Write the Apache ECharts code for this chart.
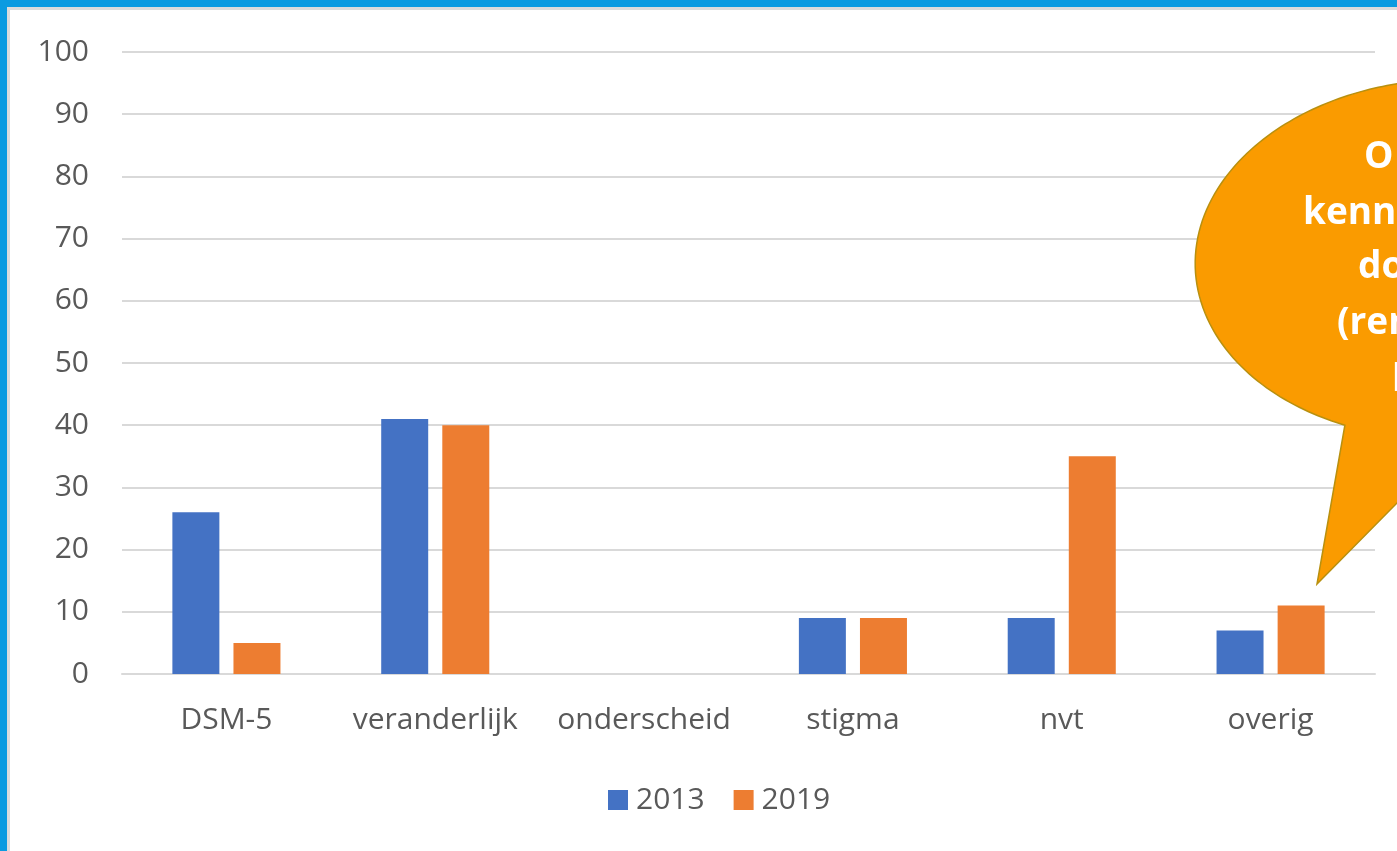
<!DOCTYPE html>
<html>
<head>
<meta charset="utf-8">
<style>
  html, body { margin: 0; padding: 0; background: #ffffff; }
  #chart { width: 1397px; height: 851px; }
</style>
<script src="https://cdn.jsdelivr.net/npm/echarts/dist/echarts.min.js"></script>
</head>
<body>
<div id="chart"></div>
<script>
// ---- data ----
const categories = ['DSM-5', 'veranderlijk', 'onderscheid', 'stigma', 'nvt', 'overig'];
const seriesNames = ['2013', '2019'];
const values2013 = [26, 41, 0, 9, 9, 7];
const values2019 = [5, 40, 0, 9, 35, 11];
const yTicks = { min: 0, max: 100, interval: 10 };
const calloutLines = ['O', 'kenn', 'do', '(rem', 'l'];

// ---- callout bubble: ellipse fitted through traced edge points ----
const edgePts = [[1397,83],[1343,100],[1300,113],[1228,175],[1200,238],[1192,262],[1202,300],[1237,362],[1285,400],[1345,425]];
const OX = 1300, OY = 260, SC = 100;
function solve(M, b) {
  const n = b.length; const A = M.map((r, i) => r.concat([b[i]]));
  for (let i = 0; i < n; i++) {
    let p = i; for (let k = i + 1; k < n; k++) if (Math.abs(A[k][i]) > Math.abs(A[p][i])) p = k;
    [A[i], A[p]] = [A[p], A[i]];
    for (let k = i + 1; k < n; k++) { const f = A[k][i] / A[i][i]; for (let j = i; j <= n; j++) A[k][j] -= f * A[i][j]; }
  }
  const x = new Array(n).fill(0);
  for (let i = n - 1; i >= 0; i--) { let s = A[i][n]; for (let j = i + 1; j < n; j++) s -= A[i][j] * x[j]; x[i] = s / A[i][i]; }
  return x;
}
function fitConic(pts) {
  const N = [[0,0,0,0,0],[0,0,0,0,0],[0,0,0,0,0],[0,0,0,0,0],[0,0,0,0,0]], r = [0,0,0,0,0];
  pts.forEach(p => {
    const u = (p[0] - OX) / SC, v = (p[1] - OY) / SC;
    const row = [u*u, u*v, v*v, u, v];
    for (let i = 0; i < 5; i++) { r[i] += row[i]; for (let j = 0; j < 5; j++) N[i][j] += row[i] * row[j]; }
  });
  return solve(N, r);
}
const [cA, cB, cC, cD, cE] = fitConic(edgePts);
const Qf = (u, v) => cA*u*u + cB*u*v + cC*v*v + cD*u + cE*v - 1;
const [u0, v0] = solve([[2*cA, cB], [cB, 2*cC]], [-cD, -cE]);
const Q0 = Qf(u0, v0);
function ellPoint(phi) {
  const c = Math.cos(phi), s = Math.sin(phi);
  const rr = Math.sqrt(-Q0 / (cA*c*c + cB*c*s + cC*s*s));
  return [OX + (u0 + rr * c) * SC, OY + (v0 + rr * s) * SC];
}
const tailBase = [1345, 425], tailTip = [1317, 584], tailRight = [1397, 503];
const phiB = Math.atan2((tailBase[1] - OY) / SC - v0, (tailBase[0] - OX) / SC - u0);
const tu = (tailTip[0] - OX) / SC, tv = (tailTip[1] - OY) / SC;
const du = (tailRight[0] - tailTip[0]) / SC, dv = (tailRight[1] - tailTip[1]) / SC;
const qa = cA*du*du + cB*du*dv + cC*dv*dv;
const qb = 2*cA*tu*du + cB*(tu*dv + tv*du) + 2*cC*tv*dv + cD*du + cE*dv;
const qc = Qf(tu, tv);
const disc = Math.max(0, qb*qb - 4*qa*qc);
const tJ = (-qb - Math.sqrt(disc)) / (2*qa);
const ju = tu + tJ*du, jv = tv + tJ*dv;
let phiJ = Math.atan2(jv - v0, ju - u0);
while (phiJ <= phiB) phiJ += 2 * Math.PI;
const bubblePoints = [];
const STEPS = 240;
for (let i = 0; i <= STEPS; i++) bubblePoints.push(ellPoint(phiB + (phiJ - phiB) * i / STEPS));
bubblePoints.push(tailTip);

const calloutX = [1364, 1303, 1358, 1337, 1392];
const calloutY = [157, 213, 267, 323, 380];

const FONT = '"Open Sans", "Noto Sans", sans-serif';
const chart = echarts.init(document.getElementById('chart'), null, { renderer: 'canvas' });

const graphics = [
  { type: 'rect', shape: { x: 0, y: 0, width: 1397, height: 7 }, style: { fill: '#0B9BE1' }, z: 100 },
  { type: 'rect', shape: { x: 0, y: 0, width: 7, height: 851 }, style: { fill: '#0B9BE1' }, z: 100 },
  { type: 'rect', shape: { x: 7, y: 7, width: 1390, height: 3 }, style: { fill: '#DCDCDC' }, z: 99 },
  { type: 'rect', shape: { x: 7, y: 7, width: 3, height: 844 }, style: { fill: '#DCDCDC' }, z: 99 },
  { type: 'polygon', shape: { points: bubblePoints }, style: { fill: '#FA9B00', stroke: '#B8900F', lineWidth: 1.5 }, z: 50 }
];
calloutLines.forEach((t, i) => {
  graphics.push({
    type: 'text', x: calloutX[i], y: calloutY[i], z: 51,
    style: { text: t, fill: '#ffffff', font: 'bold 37px ' + FONT, align: 'left', verticalAlign: 'middle' }
  });
});

chart.setOption({
  animation: false,
  backgroundColor: '#ffffff',
  grid: { left: 122, right: 22, top: 52, bottom: 177, containLabel: false },
  legend: {
    data: seriesNames,
    left: 608, top: 785, padding: 0,
    icon: 'rect', itemWidth: 20, itemHeight: 20, itemGap: 29,
    textStyle: { color: '#595959', fontSize: 30, fontFamily: FONT, padding: [0, 0, 0, 3] }
  },
  xAxis: {
    type: 'category',
    data: categories,
    axisLine: { show: true, lineStyle: { color: '#D9D9D9', width: 2 } },
    axisTick: { show: false },
    axisLabel: { color: '#595959', fontSize: 30, fontFamily: FONT, margin: 31, interval: 0 }
  },
  yAxis: {
    type: 'value',
    min: yTicks.min, max: yTicks.max, interval: yTicks.interval,
    axisLine: { show: false },
    axisTick: { show: false },
    splitLine: { lineStyle: { color: '#D9D9D9', width: 2 } },
    axisLabel: { color: '#595959', fontSize: 30, fontFamily: FONT, margin: 33 }
  },
  series: [
    { name: seriesNames[0], type: 'bar', data: values2013, barWidth: '22.5%', barGap: '30%', itemStyle: { color: '#4472C4' } },
    { name: seriesNames[1], type: 'bar', data: values2019, barWidth: '22.5%', barGap: '30%', itemStyle: { color: '#ED7D31' } }
  ],
  graphic: graphics
});
</script>
</body>
</html>
